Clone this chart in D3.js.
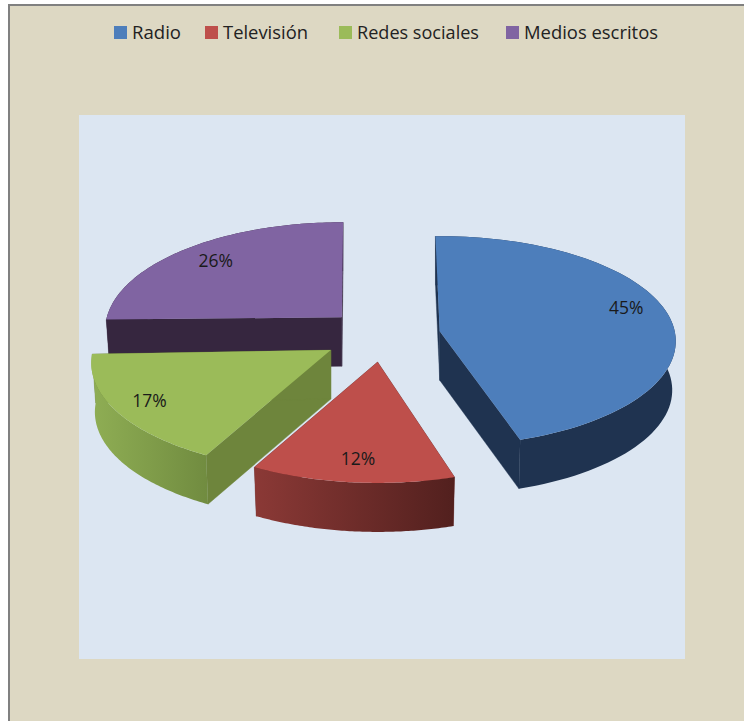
<!DOCTYPE html>
<html><head><meta charset="utf-8">
<script src="https://cdn.jsdelivr.net/npm/d3@7"></script>
<style>html,body{margin:0;padding:0;background:#fff}svg{display:block}</style>
</head><body><div id="c"></div>
<script>
const categories = ["Radio","Televisión","Redes sociales","Medios escritos"];
const values = [45,12,17,26];
const labels = ["45%","12%","17%","26%"];
const topColors = ["#4d7ebb","#be4f4b","#9bbb59","#8064a2"];
const wallLeft  = ["#1f3350","#8b3936","#8fae54","#36263f"];
const wallRight = ["#1f3350","#52201e","#718c40","#36263f"];
const cutColors = ["#1f3350","#6b2a28","#6e853c","#36263f"];
const explodeDist = [63.7,60.5,56.6,56];
const explodeBearing = [0,-3,0,9];
const labelNudge = [[4,-9],[-11,3],[-17,-1],[5,-3]];
const edgeWarpDeg = [[0,1],[2.3,3.9],[3.9,2.6],[3.5,1.5]];
const radiusFactor = [1,1,1.012,1];
const perspective = [0.095,0.12,0.12,0.12];
const legendSwatchX = [114,205,339,506];
const legendWidths = [49,85,122,134];

const W=744,H=721;
const svg=d3.select("#c").append("svg").attr("width",W).attr("height",H);
svg.append("rect").attr("x",9).attr("y",5).attr("width",W).attr("height",H).attr("fill","#ddd8c3").attr("stroke","#808080").attr("stroke-width",2);
svg.append("rect").attr("x",79).attr("y",115).attr("width",606).attr("height",544).attr("fill","#dce6f2");

const pieC={x:377,y:336},rx=235,backDepth=95,depth=49,conv=0.985,flatK=0.43;
const pie=d3.pie().sort(null).startAngle(-0.02).endAngle(2*Math.PI-0.02)(values);
const defs=svg.append("defs");
const sx=d3.scaleLinear().domain([-1,1]).range([-rx,rx]);
const line=d3.line();
const data=pie.map((p,i)=>{
  const mid=(p.startAngle+p.endAngle)/2;
  const b=mid+explodeBearing[i]*Math.PI/180;
  const cx=pieC.x+explodeDist[i]*Math.sin(b);
  const cy=pieC.y-explodeDist[i]*flatK*Math.cos(b);
  const warp=d3.scaleLinear().domain([p.startAngle,p.endAngle]).range(edgeWarpDeg[i].map(v=>v*Math.PI/180));
  const sy=d3.scaleLinear().domain([-1,1]).range([-backDepth*(1+perspective[i]),backDepth*(1+perspective[i])]);
  return {i,p,mid,cx,cy,warp,sy};
});
function proj(d,t,r){
  const w=t+d.warp(t),rr=r*radiusFactor[d.i];
  const X=rr*Math.sin(w),Y=-r*Math.cos(w),den=1-perspective[d.i]*Y;
  return [sx(X)/den,d.sy(Y)/den];
}
function topPt(d,a,r){const q=proj(d,a,r);return [d.cx+q[0],d.cy+q[1]];}
function botPt(d,a,r){const q=proj(d,a,r);return [d.cx+q[0]*conv,d.cy+q[1]+depth];}

const drawOrder=[3,0,2,1];
drawOrder.forEach(i=>{
  const d=data[i],p=d.p;
  const angles=d3.range(0,81).map(k=>p.startAngle+(p.endAngle-p.startAngle)*k/80);
  const g=svg.append("g");
  const gid="wall"+i;
  const xs=angles.map(a=>topPt(d,a,1)[0]);
  const lg=defs.append("linearGradient").attr("id",gid).attr("gradientUnits","userSpaceOnUse")
    .attr("x1",d3.min(xs)).attr("x2",d3.max(xs)).attr("y1",0).attr("y2",0);
  lg.append("stop").attr("offset",0).attr("stop-color",wallLeft[i]);
  lg.append("stop").attr("offset",1).attr("stop-color",wallRight[i]);
  [p.startAngle,p.endAngle].forEach(a=>{
    g.append("path").attr("fill",cutColors[i]).attr("stroke",cutColors[i]).attr("stroke-width",0.4)
      .attr("d",line([topPt(d,a,0),topPt(d,a,1),botPt(d,a,1),botPt(d,a,0)])+"Z");
  });
  g.append("path").attr("fill",`url(#${gid})`)
    .attr("d",line(angles.map(a=>topPt(d,a,1)).concat(angles.slice().reverse().map(a=>botPt(d,a,1))))+"Z");
  g.append("path").attr("fill",topColors[i])
    .attr("d",line([topPt(d,0,0)].concat(angles.map(a=>topPt(d,a,1))))+"Z");
});
data.forEach(d=>{
  const q=topPt(d,d.mid-d.warp(d.mid),0.8);
  svg.append("text").attr("x",q[0]+labelNudge[d.i][0]).attr("y",q[1]+labelNudge[d.i][1]+6)
    .attr("text-anchor","middle").attr("font-family","'Open Sans',sans-serif").attr("font-size",17.5)
    .attr("fill","#1a1a1a").text(labels[d.i]);
});
categories.forEach((c,i)=>{
  svg.append("rect").attr("x",legendSwatchX[i]).attr("y",26).attr("width",13).attr("height",13).attr("fill",topColors[i]);
  svg.append("text").attr("x",legendSwatchX[i]+18).attr("y",39).attr("font-family","'Open Sans',sans-serif")
    .attr("font-size",18).attr("fill","#222").attr("textLength",legendWidths[i]).attr("lengthAdjust","spacingAndGlyphs").text(c);
});
</script></body></html>
